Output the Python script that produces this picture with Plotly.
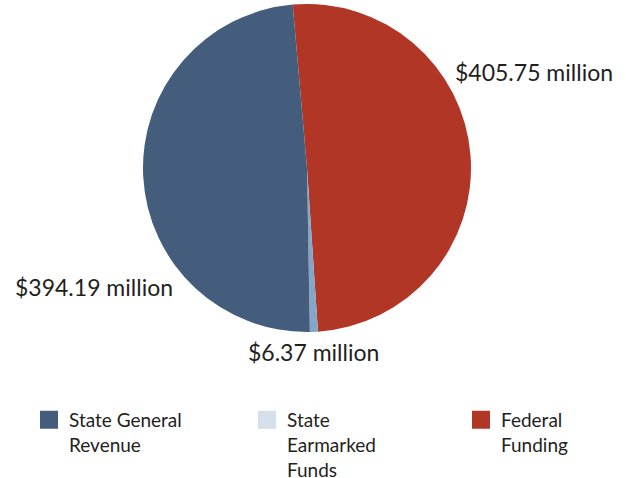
import plotly.graph_objects as go

# legend order
categories = ["State General Revenue", "State Earmarked Funds", "Federal Funding"]
legend_labels = ["State General<br>Revenue", "State<br>Earmarked<br>Funds", "Federal<br>Funding"]
values = [394.19, 6.37, 405.75]
slice_colors = ["#445d7d", "#84a6c8", "#b13626"]
legend_colors = ["#445d7d", "#d5e0ea", "#b13626"]

W, H = 626, 478
FONT = "Lato"
TXT = "#231f20"

# pie drawn clockwise starting with Federal Funding (reverse order)
fig = go.Figure()
fig.add_trace(go.Pie(
    labels=categories[::-1], values=values[::-1], sort=False, direction="clockwise",
    rotation=-5, marker=dict(colors=slice_colors[::-1], line=dict(width=0)),
    textinfo="none", hoverinfo="label+value", showlegend=False,
    domain=dict(x=[143 / W, 471 / W], y=[1 - 332 / H, 1 - 4 / H]),
))

legend_ids = ["legend", "legend2", "legend3"]
legend_x_px = [29, 247, 461]
for lab, col, lid in zip(legend_labels, legend_colors, legend_ids):
    fig.add_trace(go.Scatter(
        x=[None], y=[None], mode="markers", name=lab, legend=lid,
        marker=dict(symbol="square", size=16, color=col, line=dict(width=2, color=col)),
    ))

# value labels
label_pos = [(93.5, 287), (313.5, 352), (533.5, 72)]
for v, (px, py) in zip(values, label_pos):
    fig.add_annotation(
        x=px / W, y=1 - py / H, xref="paper", yref="paper",
        text=f"${v:.2f} million", showarrow=False,
        font=dict(family=FONT, size=23, color=TXT),
        xanchor="center", yanchor="middle",
    )

legend_common = dict(
    orientation="v", xref="paper", yref="paper",
    y=1 - 401 / H, xanchor="left", yanchor="top", valign="top",
    font=dict(family=FONT, size=19, color=TXT),
    bgcolor="rgba(0,0,0,0)",
)
layout_legends = {lid: dict(x=lx / W, **legend_common) for lid, lx in zip(legend_ids, legend_x_px)}

fig.update_layout(
    width=W, height=H,
    margin=dict(l=0, r=0, t=0, b=0, autoexpand=False),
    paper_bgcolor="white", plot_bgcolor="white",
    xaxis=dict(visible=False), yaxis=dict(visible=False),
    **layout_legends,
)

fig.write_html("out.html", config={"displayModeBar": False},
               post_script="document.body.style.margin='0';")
